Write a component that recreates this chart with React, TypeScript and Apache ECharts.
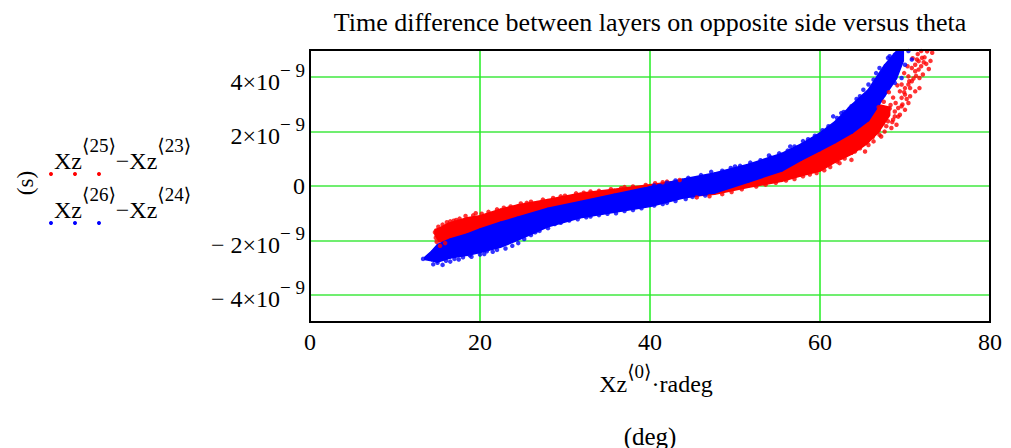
import React, { useEffect, useRef } from 'react';
import * as echarts from 'echarts';

const SERIF = "'Liberation Serif', 'Times New Roman', 'DejaVu Serif', serif";

// ---- axis ticks ----
const xTicks = [0, 20, 40, 60, 80];
const yTicks = [-4, -2, 0, 2, 4]; // units of 1e-9 s
const yTickMantissa = ['− 4×10', '− 2×10', '0', '2×10', '4×10'];
const yTickExponent = ['− 9', '− 9', '', '− 9', '− 9'];

const titleText = 'Time difference between layers on opposite side versus theta';

// ---- red: Xz<25> − Xz<23>  (dense band envelope, units 1e-9 s) ----
const redBandX = [14.7, 15.2, 16.2, 18.5, 20, 22.4, 24.4, 28, 31.8, 35.8, 40, 44, 47.6, 51.6, 55.5, 57.7, 60, 61.8, 63.8, 65.5, 66.8, 68.2];
const redBandLo = [-1.8, -2.05, -2.0, -1.85, -1.75, -1.6, -1.45, -1.2, -0.95, -0.75, -0.55, -0.4, -0.3, -0.05, 0.17, 0.37, 0.55, 0.88, 1.18, 1.55, 1.95, 2.6];
const redBandHi = [-1.6, -1.55, -1.38, -1.17, -1.09, -0.85, -0.7, -0.5, -0.27, -0.12, 0.05, 0.22, 0.4, 0.6, 0.9, 1.15, 1.5, 1.9, 2.3, 2.75, 3.0, 2.9];
// red scattered points
const redPoints = [
  [15.1, -1.5], [15.6, -1.42], [16.1, -1.33], [16.9, -1.28], [17.6, -1.2], [18.3, -1.1], [19.5, -1.0], [20.2, -1.02],
  [21, -0.95], [22, -0.86], [22.8, -0.8], [23.6, -0.75], [24.8, -0.64], [26, -0.58], [27.4, -0.5], [28.6, -0.44],
  [30, -0.36], [31.3, -0.27], [32.2, -0.25], [34, -0.18], [35.4, -0.12], [36.6, -0.08], [38, -0.02], [39.5, 0.04],
  [40.6, 0.1], [42, 0.16], [43.5, 0.22],
  [14.7, -1.7], [14.8, -1.9], [14.9, -2.05], [15.3, -2.2], [15.9, -2.1], [16.5, -1.3], [17.2, -1.25], [19.2, -1.08],
  [25.5, -0.62], [29.5, -0.38], [33, -0.2], [37, -0.04], [41.5, 0.14],
  [45.5, -0.42], [47, -0.38], [48.5, -0.3], [49.6, -0.22], [50.8, -0.12], [52.5, -0.02], [53.6, 0.05], [54.8, 0.12],
  [56, 0.2], [57, 0.26], [58, 0.36], [58.8, 0.42], [59.6, 0.48], [60.5, 0.58], [61.2, 0.7], [62, 0.9],
  [61.7, 0.96], [62.3, 0.84], [62.9, 1.01], [63.7, 0.96], [64.1, 1.27], [64.7, 1.39], [65.3, 1.27], [65.7, 1.51],
  [66.3, 1.64], [66.4, 2.0], [66.8, 2.38], [67.2, 1.82], [67.4, 2.31], [67.6, 2.0], [68.0, 2.38], [68.4, 2.13],
  [68.6, 2.44], [69.0, 2.25], [68.8, 2.56], [69.4, 2.62], [69.2, 2.87], [70.0, 2.8], [69.6, 3.24], [70.6, 3.3],
  [70.0, 3.36], [70.4, 3.73], [71.2, 3.48], [71.7, 3.6], [70.8, 3.85], [71.2, 4.22], [71.7, 3.97], [72.1, 4.1],
  [71.6, 4.28], [71.4, 4.65], [72.5, 4.49], [71.9, 4.96], [72.3, 4.73], [73.2, 4.9],
  [69.6, 3.73], [70.0, 3.6], [69.4, 3.48], [70.4, 4.03], [70.8, 4.34], [71.2, 4.46], [71.6, 4.59], [72.0, 4.71],
  [70.4, 3.05], [69.6, 2.93], [68.8, 2.74], [68.3, 2.98], [67.9, 2.68], [67.2, 2.62], [66.6, 2.19], [67.0, 1.88],
  [66.1, 1.94], [65.9, 2.13], [65.3, 1.76], [64.9, 1.51], [64.1, 1.64], [63.3, 1.51], [62.5, 1.14],
  [66.9, 2.9], [67.5, 3.1], [68.1, 3.45], [68.6, 3.25], [69.1, 3.7], [69.9, 4.15], [70.3, 4.4], [70.9, 4.7],
  [71.5, 4.85], [72.6, 4.95], [73.0, 4.6], [72.8, 4.3], [71.9, 4.4], [71.0, 3.95], [70.6, 3.6], [70.2, 3.2],
  [69.7, 3.0], [69.2, 2.55], [68.5, 2.35], [67.8, 2.2], [66.9, 2.05], [66.2, 1.8], [65.6, 1.65], [72.2, 4.55],
  [71.3, 4.05], [70.5, 3.85], [69.9, 3.45], [68.9, 3.05], [68.2, 2.85]
];

// ---- blue: Xz<26> − Xz<24> ----
const blueBandX = [13.5, 14.3, 15, 16.5, 18.5, 20, 22.4, 24.4, 28, 31.8, 35.8, 40, 43.8, 47.6, 51.6, 55.5, 57.8, 60, 61.8, 63.8, 65.7, 67.6, 69.0, 69.8];
const blueBandLo = [-2.7, -2.75, -2.8, -2.65, -2.55, -2.45, -2.25, -2.0, -1.5, -1.17, -0.97, -0.75, -0.45, -0.26, 0.15, 0.55, 0.95, 1.3, 1.6, 1.95, 2.4, 3.3, 3.95, 4.6];
const blueBandHi = [-2.62, -2.4, -2.15, -1.95, -1.76, -1.58, -1.33, -1.15, -0.82, -0.57, -0.3, -0.03, 0.25, 0.48, 0.8, 1.2, 1.55, 1.95, 2.38, 3.0, 3.55, 4.45, 4.95, 5.0];
const bluePoints = [
  [13.3, -2.68], [14.2, -2.55], [14.5, -2.88], [15.6, -2.9], [16.5, -2.78], [17.5, -2.7], [19, -2.6], [20.5, -2.5],
  [21.5, -2.42], [23, -2.3], [24.5, -2.1], [26, -1.8], [27, -1.65], [29.5, -1.35], [33, -1.12], [36, -1.0],
  [38, -0.88], [42, -0.62], [45, -0.4],
  [15, -2.82], [16, -2.75], [17, -2.68], [18, -2.62], [18.8, -2.55], [20, -2.52], [20.8, -2.4], [22, -2.35],
  [23.8, -2.2], [25.2, -1.95], [26.5, -1.7], [28, -1.55], [28.8, -1.4], [30.5, -1.27], [31.5, -1.22], [32.5, -1.15],
  [34, -1.07], [35, -1.02], [37, -0.92], [39, -0.82], [40.5, -0.72], [41.5, -0.66], [43, -0.55], [44.2, -0.48], [46.5, -0.35],
  [40.5, 0.02], [42, 0.12], [43, 0.2], [44.5, 0.3], [46, 0.4], [47.2, 0.52], [48.5, 0.56], [49.5, 0.66],
  [50.6, 0.74], [51.8, 0.86], [53, 0.95], [54.2, 1.05], [55.2, 1.2], [56.2, 1.3], [57, 1.45], [58, 1.65],
  [58.6, 1.72], [59.4, 1.85], [60.3, 2.05], [61, 2.2], [62, 2.5], [62.8, 2.72], [63.5, 2.85], [64.3, 3.2],
  [50, 0.72], [54, 1.12], [56.5, 1.45],
  [61.55, 2.56], [62.5, 2.68], [63.7, 2.93], [64.7, 3.3], [65.1, 3.54], [65.7, 3.73], [66.3, 3.91], [66.6, 4.15],
  [67.0, 4.34], [68.0, 4.71], [68.2, 4.77], [68.8, 4.83], [69.6, 4.9], [70.4, 4.96], [70.8, 4.65], [70.0, 4.46],
  [69.6, 3.97], [68.8, 3.79]
];

const RED = '#ff0000';
const BLUE = '#0000ff';

function bandSeries(name: string, xs: number[], lo: number[], hi: number[], color: string) {
  return {
    type: 'custom',
    name,
    clip: true,
    silent: true,
    data: xs.map((x, i) => [x, lo[i], hi[i]]),
    encode: { x: 0, y: [1, 2] },
    renderItem: (params: any, api: any) => {
      const i = params.dataIndex;
      if (i >= xs.length - 1) return null;
      const a = api.coord([xs[i], lo[i]]);
      const b = api.coord([xs[i], hi[i]]);
      const c = api.coord([xs[i + 1], hi[i + 1]]);
      const d = api.coord([xs[i + 1], lo[i + 1]]);
      return {
        type: 'polygon',
        shape: { points: [a, b, c, d] },
        style: { fill: color, stroke: color, lineWidth: 1.5, lineJoin: 'round' }
      };
    }
  };
}

function scatterSeries(name: string, pts: number[][], color: string) {
  return {
    type: 'scatter',
    name,
    data: pts,
    symbol: 'circle',
    symbolSize: 4.5,
    itemStyle: { color },
    silent: true
  };
}

export default function App() {
  const ref = useRef<HTMLDivElement>(null);
  useEffect(() => {
    if (!ref.current) return;
    const chart = echarts.init(ref.current, null, { renderer: 'svg' });
    const supRich = (main: number, sup: number, lh: number) => ({
      m: { fontFamily: SERIF, fontSize: main, fill: '#000', lineHeight: lh, verticalAlign: 'bottom' },
      s: { fontFamily: SERIF, fontSize: sup, fill: '#000', lineHeight: lh, verticalAlign: 'top' }
    });
    const option: any = {
      animation: false,
      backgroundColor: '#fff',
      grid: { left: 310, right: 21, top: 50, bottom: 126, show: false },
      xAxis: {
        type: 'value',
        min: xTicks[0],
        max: xTicks[xTicks.length - 1],
        interval: 20,
        axisLine: { show: false },
        axisTick: { show: false },
        axisLabel: { fontFamily: SERIF, fontSize: 24, color: '#000', margin: 8 },
        splitLine: { show: true, lineStyle: { color: '#22ee22', width: 1.5 } }
      },
      yAxis: {
        type: 'value',
        min: -5,
        max: 5,
        axisLine: { show: false },
        axisTick: { show: false, customValues: yTicks },
        axisLabel: {
          customValues: yTicks,
          margin: 5,
          formatter: (v: number) => {
            const i = yTicks.indexOf(Math.round(v));
            if (i < 0) return '';
            if (!yTickExponent[i]) return '{z|' + yTickMantissa[i] + '}';
            return '{m|' + yTickMantissa[i] + '}{s|' + yTickExponent[i] + '}';
          },
          rich: {
            m: { fontFamily: SERIF, fontSize: 24, color: '#000', lineHeight: 33, verticalAlign: 'bottom' },
            s: { fontFamily: SERIF, fontSize: 19, color: '#000', lineHeight: 33, verticalAlign: 'top' },
            z: { fontFamily: SERIF, fontSize: 24, color: '#000' }
          }
        },
        splitLine: { show: true, lineStyle: { color: '#70ee70', width: 2 } }
      },
      series: [
        bandSeries('Xz25-Xz23 band', redBandX, redBandLo, redBandHi, RED),
        scatterSeries('Xz25-Xz23', redPoints, RED),
        bandSeries('Xz26-Xz24 band', blueBandX, blueBandLo, blueBandHi, BLUE),
        scatterSeries('Xz26-Xz24', bluePoints, BLUE)
      ],
      graphic: [
        { type: 'rect', z: 100, silent: true, shape: { x: 310, y: 50, width: 680, height: 272 }, style: { fill: 'none', stroke: '#000', lineWidth: 2 } },
        { type: 'text', x: 650, y: 22, style: { text: titleText, fontFamily: SERIF, fontSize: 26, fill: '#000', align: 'center', verticalAlign: 'middle' } },
        {
          type: 'text', x: 54, y: 154,
          style: { text: '{m|Xz}{s|⟨25⟩}{m|−Xz}{s|⟨23⟩}', align: 'left', verticalAlign: 'middle', rich: supRich(24, 19, 37) }
        },
        {
          type: 'text', x: 54, y: 203,
          style: { text: '{m|Xz}{s|⟨26⟩}{m|−Xz}{s|⟨24⟩}', align: 'left', verticalAlign: 'middle', rich: supRich(24, 19, 37) }
        },
        { type: 'circle', shape: { cx: 51, cy: 174, r: 2 }, style: { fill: RED } },
        { type: 'circle', shape: { cx: 75, cy: 174, r: 2 }, style: { fill: RED } },
        { type: 'circle', shape: { cx: 99, cy: 174, r: 2 }, style: { fill: RED } },
        { type: 'circle', shape: { cx: 51, cy: 223, r: 2 }, style: { fill: BLUE } },
        { type: 'circle', shape: { cx: 75, cy: 223, r: 2 }, style: { fill: BLUE } },
        { type: 'circle', shape: { cx: 99, cy: 223, r: 2 }, style: { fill: BLUE } },
        {
          type: 'text', x: 25, y: 183, rotation: Math.PI / 2,
          style: { text: '(s)', fontFamily: SERIF, fontSize: 23, fill: '#000', align: 'center', verticalAlign: 'middle' }
        },
        {
          type: 'text', x: 656, y: 379,
          style: { text: '{m|Xz}{s|⟨0⟩}{m|·radeg}', align: 'center', verticalAlign: 'middle', rich: supRich(24, 19, 34) }
        },
        { type: 'text', x: 650, y: 436, style: { text: '(deg)', fontFamily: SERIF, fontSize: 25, fill: '#000', align: 'center', verticalAlign: 'middle' } }
      ]
    };
    chart.setOption(option);
    return () => chart.dispose();
  }, []);
  return <div ref={ref} style={{ width: 1011, height: 448, position: 'absolute', left: 0, top: 0 }} />;
}
